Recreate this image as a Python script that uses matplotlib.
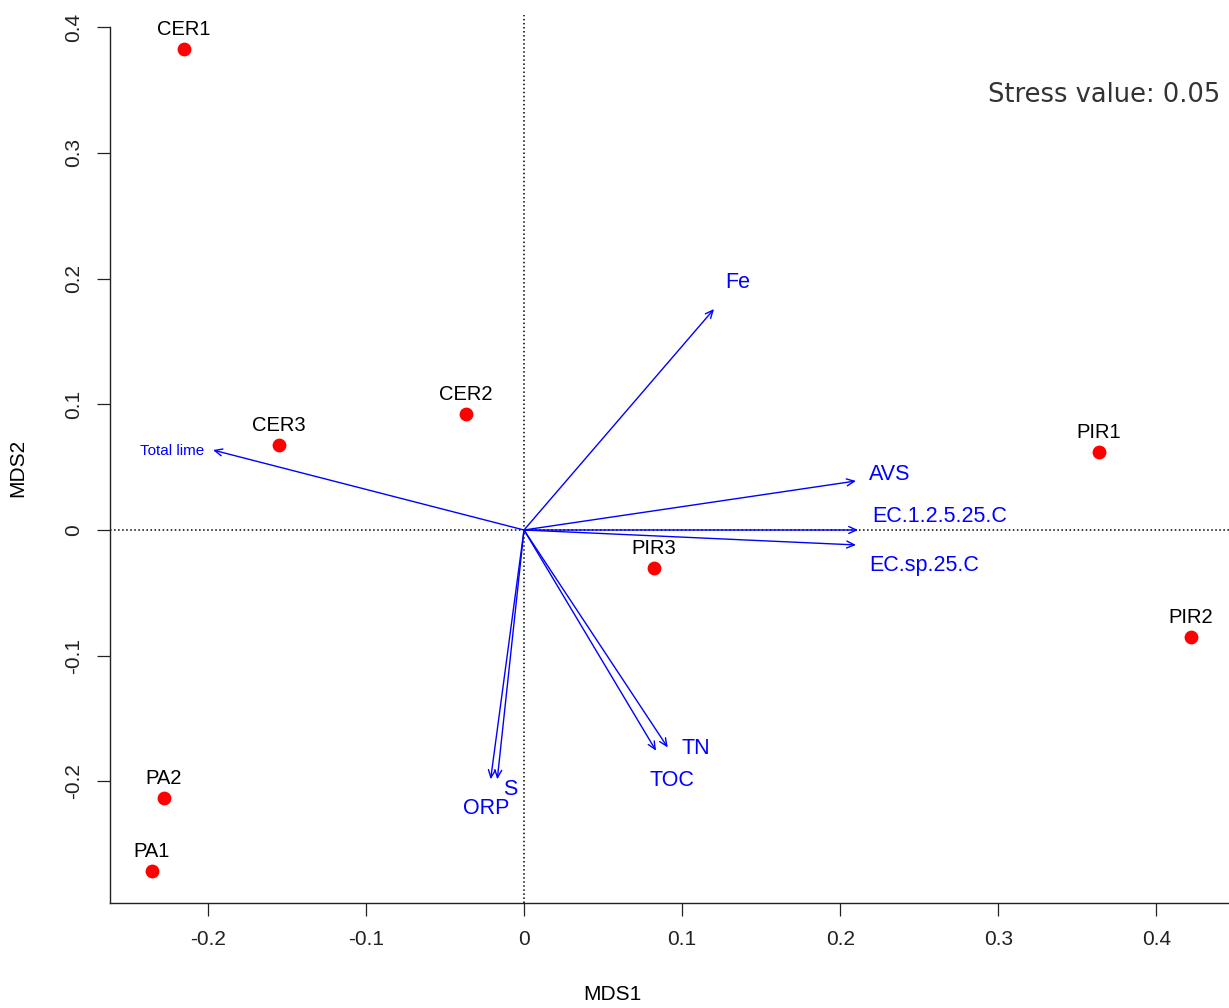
import matplotlib
matplotlib.use("Agg")
import matplotlib.pyplot as plt

# site scores (NMDS)
sites = ["CER1", "CER2", "CER3", "PIR1", "PIR2", "PIR3", "PA2", "PA1"]
mds1 = [-0.215, -0.0367, -0.155, 0.3637, 0.4219, 0.0822, -0.2277, -0.2353]
mds2 = [0.383, 0.0923, 0.0676, 0.062, -0.0851, -0.0302, -0.2132, -0.2713]

# envfit arrows
env_names = ["Fe", "AVS", "EC.1.2.5.25.C", "EC.sp.25.C", "Total lime",
             "TN", "TOC", "S", "ORP"]
env_x = [0.1202, 0.2100, 0.2113, 0.2100, -0.1967, 0.0909, 0.0835, -0.0169, -0.0211]
env_y = [0.1758, 0.0390, 0.0000, -0.0119, 0.0636, -0.1730, -0.1756, -0.1983, -0.1983]
# where the labels sit
lab_x = [0.1354, 0.2315, 0.2631, 0.2530, -0.2226, 0.1088, 0.0936, -0.0089, -0.0240]
lab_y = [0.1965, 0.0445, 0.0111, -0.0286, 0.0628, -0.1742, -0.1989, -0.2068, -0.2212]
lab_size = [15.5, 15.5, 15.5, 15.5, 11, 15.5, 15.5, 15.5, 15.5]

stress = 0.05

fig = plt.figure(figsize=(12.29, 10.08), dpi=100)
ax = fig.add_axes([110 / 1229, 105 / 1008, 1 - 110 / 1229, (903 - 15) / 1008])

ylo = (530 - 903) / 1257
ax.set_xlim((110 - 524) / 1581, (1229 - 524) / 1581)
ax.set_ylim(ylo, (530 - 15) / 1257)

ax.axhline(0, color="black", ls=":", lw=1.1, zorder=1)
ax.axvline(0, color="black", ls=":", lw=1.1, zorder=1)

ax.scatter(mds1, mds2, s=80, color="red", zorder=3, clip_on=False)
for name, x, y in zip(sites, mds1, mds2):
    ax.annotate(name, (x, y), xytext=(0, 7), textcoords="offset points",
                ha="center", va="bottom", fontsize=14.5,
                family="Liberation Sans", color="black", annotation_clip=False)

for name, x, y, lx, ly, fs in zip(env_names, env_x, env_y, lab_x, lab_y, lab_size):
    ax.annotate("", xy=(x, y), xytext=(0, 0),
                arrowprops=dict(arrowstyle="->,head_length=0.55,head_width=0.25",
                                color="blue", lw=1.0, shrinkA=0, shrinkB=0),
                zorder=2)
    ax.text(lx, ly, name, ha="center", va="center", fontsize=fs,
            family="Liberation Sans", color="blue")

ax.text(0.992, 0.91, "Stress value: %.2f" % stress, transform=ax.transAxes,
        ha="right", va="center", fontsize=18.5, color="#333333",
        family="DejaVu Sans")

for s in ["top", "right"]:
    ax.spines[s].set_visible(False)
for s in ["left", "bottom"]:
    ax.spines[s].set_linewidth(1.0)
    ax.spines[s].set_color("#222222")
ax.spines["left"].set_bounds(ylo, 0.4)

ax.set_xticks([-0.2, -0.1, 0, 0.1, 0.2, 0.3, 0.4])
ax.set_xticklabels(["-0.2", "-0.1", "0", "0.1", "0.2", "0.3", "0.4"])
ax.set_yticks([-0.2, -0.1, 0, 0.1, 0.2, 0.3, 0.4])
ax.set_yticklabels(["-0.2", "-0.1", "0", "0.1", "0.2", "0.3", "0.4"],
                   rotation=90, va="center")
ax.tick_params(direction="out", length=9.5, width=0.9, pad=10,
               labelsize=15, colors="#222222")
for lbl in ax.get_xticklabels() + ax.get_yticklabels():
    lbl.set_family("Liberation Sans")

fig.text(612 / 1229, 1 - 995 / 1008, "MDS1", ha="center", va="center",
         fontsize=15, family="Liberation Sans")
fig.text(18 / 1229, 1 - 468 / 1008, "MDS2", ha="center", va="center",
         rotation=90, fontsize=15, family="Liberation Sans")

fig.savefig("out.png", dpi=100)
